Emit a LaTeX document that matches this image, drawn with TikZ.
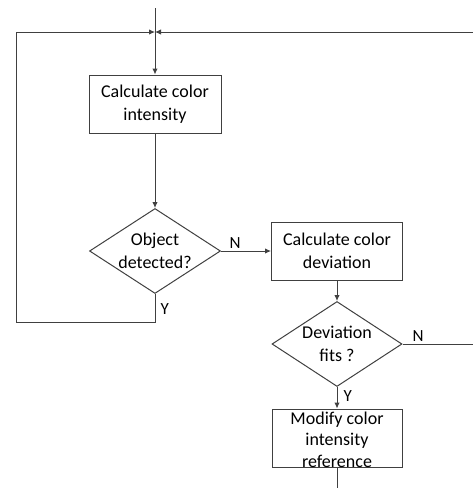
\documentclass[tikz,border=0pt]{standalone}
\usepackage{fontspec}
\setmainfont{Carlito}
\usepackage{tikz}
\usetikzlibrary{shapes,arrows,arrows.meta,calc,positioning}
\tikzstyle{arrow} = [draw=black!75, -{Latex[length=6pt,width=5.5pt]}]
\tikzstyle{line} = [draw=black!75]
\tikzstyle{box} = [rectangle, draw=black!75, align=center, minimum width=131pt, minimum height=58pt, inner sep=0pt]
\tikzstyle{decision} = [diamond, draw=black!75, minimum width=131pt, minimum height=85pt, inner sep=0pt]
\tikzstyle{txt} = [align=center, inner sep=0pt]
\tikzstyle{lbl} = [inner sep=1pt, font={\fontsize{17}{20}\selectfont}]

\begin{document}
\begin{tikzpicture}[
    x=1pt, y=-1pt,
    line width=1pt,
    font={\fontsize{18}{22.5}\selectfont}
  ]
    \useasboundingbox (0,0) rectangle (473,499);
    \coordinate (start) at (155,8);
    \coordinate (join) at (155,32);
    \node [box, minimum width=132pt] at (155,104) (intensity)
      {Calculate color\\intensity};
    \node [decision] at (155,251) (detect) {};
    \node [txt] at (detect) (detecttext) {Object\\detected?};
    \node [box] at (337,251) (deviation)
      {Calculate color\\deviation};
    \node [decision, minimum width=130pt] at (337,344) (fits) {};
    \node [txt] at (fits) (fitstext) {Deviation\\fits ?};
    \node [box, minimum width=130pt] at (337,438) (modify) {};
    \node [txt, font={\fontsize{18}{21.5}\selectfont}] at ($(modify)+(0,1.5)$) (modifytext)
      {Modify color\\intensity\\reference};
    % loop corners
    \coordinate (loopbl) at (16,322);
    \coordinate (looptl) at (16,32);
    \coordinate (rightbot) at (474,344);
    \coordinate (righttop) at (474,32);
    \coordinate (exit) at (337,488);
    \path [arrow] (start) -- (intensity);
    \path [arrow] (intensity) -- (detect);
    \path [arrow] (detect) -- node [lbl, pos=0.28, above=1.5pt] (detectno) {N} (deviation);
    \path [arrow] (detect.south) |- node [lbl, pos=0.27, right=4pt] (detectyes) {Y} (loopbl)
      -- (looptl) -- (join);
    \path [arrow] (deviation) -- (fits);
    \path [arrow] (fits) -- node [lbl, pos=0.4, right=5pt] (fitsyes) {Y} (modify);
    \path [arrow] (fits.east) -- node [lbl, pos=0.22, above=1.5pt] (fitsno) {N} (rightbot)
      -- (righttop) -- (join);
    \path [line] (modify) -- (exit);
  \end{tikzpicture}
\end{document}
